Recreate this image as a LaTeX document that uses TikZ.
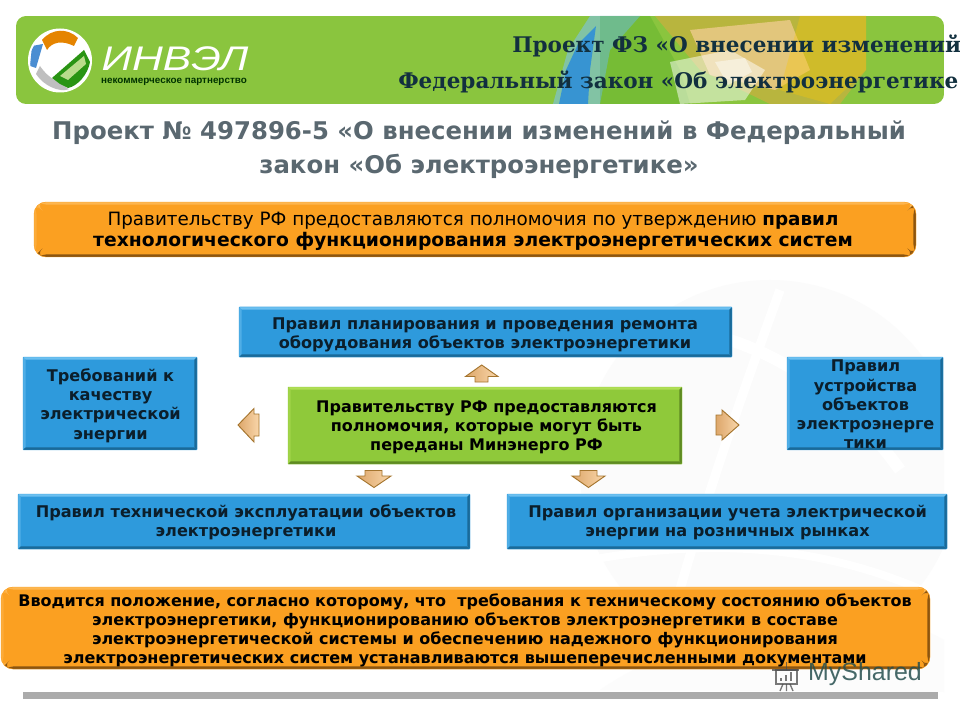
\documentclass[tikz,border=0pt]{standalone}
\usepackage{fontspec}
\setmainfont{DejaVu Sans}
\newfontfamily\headfont{DejaVu Serif}
\newfontfamily\logofont{Liberation Sans}
\usetikzlibrary{calc}
\definecolor{hdgreen}{HTML}{8AC53E}
\definecolor{hddark}{HTML}{12303F}
\definecolor{titlegray}{HTML}{5A6870}
\definecolor{bluetext}{HTML}{0B1E2B}
\definecolor{orangeM}{HTML}{FBA021}
\definecolor{orangeD}{HTML}{8C5510}
\definecolor{orangeL}{HTML}{FDB650}
\definecolor{blueM}{HTML}{2E9ADC}
\definecolor{blueD}{HTML}{1A6A99}
\definecolor{blueL}{HTML}{6CC0F0}
\definecolor{greenM}{HTML}{8FC93A}
\definecolor{greenD}{HTML}{5E8A22}
\definecolor{greenL}{HTML}{B0DE55}
\definecolor{arrowA}{HTML}{DDA76B}
\definecolor{arrowB}{HTML}{F9D6AA}
\definecolor{arrowedge}{HTML}{A5752E}
\definecolor{artblue}{HTML}{2F8FD8}
\definecolor{artsky}{HTML}{7EC3E8}
\tikzset{
  x=0.75pt,y=-0.75pt,
  bevelbox/.style n args={4}{draw=#2,line width=0.3pt,fill=#2,rounded corners=#4,inner sep=0pt,
    path picture={
      \coordinate (pbnw) at (path picture bounding box.north west);
      \coordinate (pbne) at (path picture bounding box.north east);
      \coordinate (pbsw) at (path picture bounding box.south west);
      \coordinate (pbse) at (path picture bounding box.south east);
      \fill[#3] (pbnw) -- (pbne) -- ($(pbne)+(-2pt,-2pt)$) -- ($(pbnw)+(2pt,-2pt)$) -- cycle;
      \fill[#3,opacity=.55] (pbnw) -- (pbsw) -- ($(pbsw)+(2pt,2pt)$) -- ($(pbnw)+(2pt,-2pt)$) -- cycle;
      \fill[#1] (pbse) -- (pbne) -- ($(pbne)+(-2pt,-2pt)$) -- ($(pbse)+(-2pt,2pt)$) -- cycle;
      \fill[#1] (pbsw) -- (pbse) -- ($(pbse)+(-2pt,2pt)$) -- ($(pbsw)+(2pt,2pt)$) -- cycle;
    }},
  bluebox/.style={bevelbox={blueD}{blueM}{blueL}{0.5pt}},
  greenbox/.style={bevelbox={greenD}{greenM}{greenL}{0.3pt}},
  orangebox/.style={bevelbox={orangeD}{orangeM}{orangeL}{9pt}},
  boxtext/.style={align=center,inner sep=0pt,font=\fontsize{12.1}{14.4}\selectfont\bfseries,text=black},
  bluetextnode/.style={boxtext,text=bluetext},
  blockarrow/.style={draw=arrowedge,line width=0.7pt,left color=arrowA,right color=arrowB,line join=miter},
  headtext/.style={font=\headfont\fontsize{16.15}{18}\selectfont\bfseries,text=hddark,inner sep=0pt,anchor=west},
}
\begin{document}
\begin{tikzpicture}
\useasboundingbox (0,0) rectangle (960,720);
\clip (0,0) rectangle (960,720);
\fill[white] (0,0) rectangle (960,720);
% faint slide background
\begin{scope}
\clip (17,120) rectangle (944,692);
\fill[gray!3] (770,470) circle (190);
\draw[white,line width=9pt] (520,360) .. controls (640,290) and (800,330) .. (900,470);
\draw[white,line width=7pt] (650,700) .. controls (690,540) and (740,400) .. (780,290);
\draw[white,line width=6pt] (590,560) .. controls (700,540) and (820,540) .. (944,600);
\fill[gray!2] (600,690) .. controls (700,620) and (880,600) .. (944,640) -- (944,692) -- cycle;
\end{scope}
% header band
\begin{scope}
\clip[rounded corners=7.5pt] (16,16) rectangle (944,104);
\fill[hdgreen] (16,16) rectangle (944,104);
\fill[artsky,opacity=.6] (553,104) -- (568,50) -- (590,16) -- (640,16) -- (610,50) -- (600,104) -- cycle;
\fill[artblue,opacity=.9] (559,104) -- (566,70) -- (578,44) -- (596,26) -- (590,70) -- (588,104) -- cycle;
\fill[green!55!black,opacity=.14] (600,16) -- (650,16) -- (680,70) -- (690,104) -- (600,104) -- cycle;
\fill[orange!75!white,opacity=.4] (655,16) -- (866,16) -- (866,70) -- (840,104) -- (770,104) -- (700,70) -- cycle;
\fill[orange!35!white,opacity=.6] (690,30) -- (790,20) -- (810,70) -- (775,90) -- (710,75) -- cycle;
\fill[yellow!60!orange,opacity=.35] (800,16) -- (866,16) -- (866,70) -- (830,104) -- (780,90) -- cycle;
\fill[white,opacity=.5] (670,62) -- (730,50) -- (765,70) -- (745,100) -- (680,104) -- cycle;
\fill[white,opacity=.45] (715,62) -- (745,58) -- (752,72) -- (728,85) -- cycle;
\end{scope}
% logo
\fill[white] (60,60.5) circle (32);
\begin{scope}
\clip (60,60.5) circle (30);
\fill[white] (28,28) rectangle (92,93);
\fill[orange!85!yellow!90!black] (42,40) .. controls (52,28) and (68,28) .. (78,38) -- (74,46) .. controls (62,40) and (52,42) .. (47,50) -- cycle;
\fill[cyan!55!blue!75!white] (32,46) -- (43,44) -- (36,68) -- (30,66) -- cycle;
\fill[gray!50] (36,74) .. controls (44,86) and (58,92) .. (70,90) -- (58,82) .. controls (50,78) and (44,72) .. (40,66) -- cycle;
\fill[green!50!black!70!hdgreen] (52,78) -- (84,50) -- (90,62) .. controls (88,74) and (78,86) .. (68,88) -- (60,84) -- cycle;
\fill[hdgreen!60!white] (60,76) -- (84,56) -- (86,64) -- (68,80) -- cycle;
\end{scope}
\node (logoname) at (175,59) [font=\logofont\fontsize{25.6}{26}\selectfont\itshape,text=white,inner sep=0pt] {\scalebox{1.25}[1]{ИНВЭЛ}};
\node (logosub) at (174,81.5) [font=\logofont\fontsize{7.4}{8}\selectfont\bfseries,text=black!80!green,inner sep=0pt] {некоммерческое партнерство};
% header text
\node[headtext] (head1) at (512,45.5) {Проект ФЗ «О внесении изменений};
\node[headtext] (head2) at (398,82) {Федеральный закон «Об электроэнергетике»};
% title
\node (title) at (479,150) [font=\fontsize{18.27}{25.5}\selectfont\bfseries,text=titlegray,align=center,inner sep=0pt]
 {Проект № 497896-5 «О внесении изменений в Федеральный\\закон «Об электроэнергетике»};
% orange boxes
\node[orangebox,minimum width=661.5pt,minimum height=41.2pt] (top) at (475,229.5) {};
\node[boxtext,font=\fontsize{13.75}{15.75}\selectfont] (toptext) at (473,231.5)
 {Правительству РФ предоставляются полномочия по утверждению \textbf{правил}\\\fontsize{14.05}{15.75}\selectfont\textbf{технологического функционирования электроэнергетических систем}};
\node[orangebox,minimum width=696.75pt,minimum height=61.5pt] (bottom) at (465.5,628) {};
\node[boxtext,font=\fontsize{12}{14.3}\selectfont\bfseries] (bottomtext) at (465,630)
 {Вводится положение, согласно которому, что\ \ требования к техническому состоянию объектов\\
  электроэнергетики, функционированию объектов электроэнергетики в составе\\
  электроэнергетической системы и обеспечению надежного функционирования\\
  электроэнергетических систем устанавливаются вышеперечисленными документами};
% blue boxes
\node[bluebox,minimum width=369.75pt,minimum height=37.5pt] (plan) at (485.5,332) {};
\node[bluetextnode] (plantext) at (485,335) {Правил планирования и проведения ремонта\\оборудования объектов электроэнергетики};
\node[bluebox,minimum width=130.5pt,minimum height=69.7pt] (quality) at (110,403.5) {};
\node[bluetextnode] (qualitytext) at (110.5,405.5) {Требований к\\качеству\\электрической\\энергии};
\node[bluebox,minimum width=117pt,minimum height=69.7pt] (device) at (865,403.5) {};
\node[bluetextnode] (devicetext) at (865.5,404.5) {Правил\\устройства\\объектов\\электроэнерге\\тики};
\node[greenbox,minimum width=295.5pt,minimum height=57.75pt] (gov) at (485,425.5) {};
\node[boxtext,font=\fontsize{12}{14.4}\selectfont\bfseries] (govtext) at (486.5,427.5) {Правительству РФ предоставляются\\полномочия, которые могут быть\\переданы Минэнерго РФ};
\node[bluebox,minimum width=339pt,minimum height=41.25pt] (oper) at (244,521.5) {};
\node[bluetextnode] (opertext) at (246,522.5) {Правил технической эксплуатации объектов\\электроэнергетики};
\node[bluebox,minimum width=330pt,minimum height=41.25pt] (meter) at (727,521.5) {};
\node[bluetextnode] (metertext) at (727.5,522.5) {Правил организации учета электрической\\энергии на розничных рынках};
% block arrows
\draw[blockarrow] (481.7,365) -- (498,376.5) -- (488,376.5) -- (488,382) -- (475,382) -- (475,376.5) -- (465.5,376.5) -- cycle;
\draw[blockarrow] (238,425) -- (254,408.5) -- (254,414) -- (259,414) -- (259,436) -- (254,436) -- (254,442) -- cycle;
\draw[blockarrow] (739,425) -- (722,410) -- (722,415) -- (716,415) -- (716,435) -- (722,435) -- (722,440) -- cycle;
\draw[blockarrow] (374,487.5) -- (391,476) -- (382,476) -- (382,470.5) -- (365,470.5) -- (365,476) -- (357,476) -- cycle;
\draw[blockarrow] (588.5,487.5) -- (605,476) -- (597,476) -- (597,470.5) -- (580,470.5) -- (580,476) -- (572,476) -- cycle;
% bottom bar
\fill[black!33] (23,692) rectangle (938,699);
% watermark
\begin{scope}[draw=black!70,opacity=.75,line width=1pt]
\draw (776,670) rectangle (797,684);
\draw (772,670) -- (799,670);
\draw (783,684) -- (780,691) (790,684) -- (793,691) (786.5,684) -- (786.5,691);
\draw[line width=1.6pt] (781,681) -- (781,678) (786,681) -- (786,675) (791,681) -- (791,672);
\draw (786.5,670) -- (786.5,662);
\end{scope}
\node (wm) at (865,674) [font=\logofont\fontsize{18.7}{19}\selectfont,text=black!55!teal!70!gray,opacity=.85,inner sep=0pt] {MyShared};
\end{tikzpicture}
\end{document}
